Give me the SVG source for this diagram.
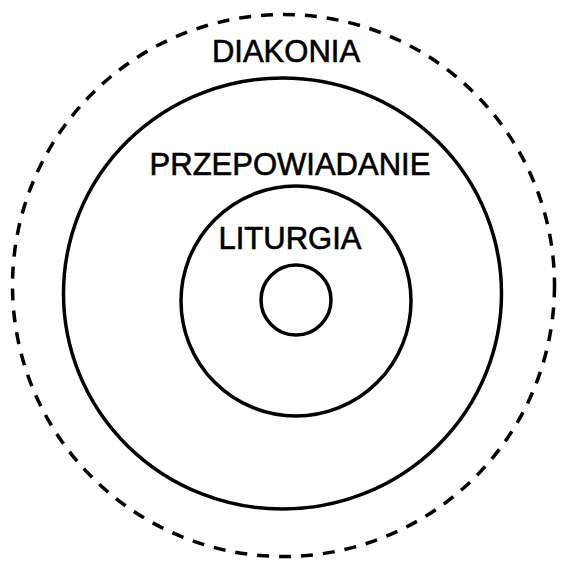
<svg xmlns="http://www.w3.org/2000/svg" width="566" height="561" viewBox="0 0 566 561">
<style>
.c{fill:none;stroke:#000;stroke-width:3.5}
.d{stroke-dasharray:12 10}
.t{font-family:"Liberation Sans",Arial,sans-serif;font-size:31px;fill:#000;stroke:#000;stroke-width:0.6;text-anchor:middle}
</style>
<rect width="566" height="561" fill="#fff"/>
<g id="diakonia">
<circle class="c d" cx="283.5" cy="285.5" r="271"/>
<text class="t" x="286" y="62">DIAKONIA</text>
</g>
<g id="przepowiadanie">
<ellipse class="c" cx="282.5" cy="293.5" rx="219" ry="215.5"/>
<text class="t" x="290" y="175">PRZEPOWIADANIE</text>
</g>
<g id="liturgia">
<circle class="c" cx="296" cy="301" r="115"/>
<text class="t" x="290" y="249">LITURGIA</text>
</g>
<g id="center">
<circle class="c" cx="296" cy="300" r="35"/>
</g>
<g id="connectors"></g>
</svg>
